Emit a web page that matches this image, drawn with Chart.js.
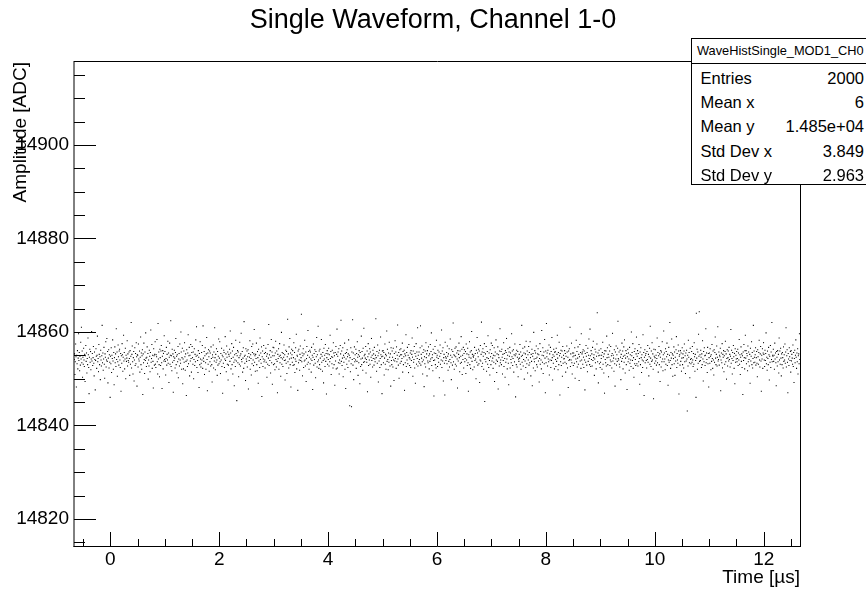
<!DOCTYPE html>
<html>
<head>
<meta charset="utf-8">
<script src="https://cdn.jsdelivr.net/npm/chart.js@4.4.1/dist/chart.umd.min.js"></script>
<style>
html,body{margin:0;padding:0;background:#fff;overflow:hidden;}
#wrap{position:relative;width:866px;height:592px;overflow:hidden;background:#fff;}
#chart{position:absolute;left:0;top:0;}
#stats{position:absolute;left:691px;top:38px;width:190px;height:145px;border:1px solid #000;background:#fff;
  font-family:'Liberation Sans',Arial,Helvetica,sans-serif;color:#000;}
#stats .hdr{position:absolute;left:0;top:0;width:190px;height:24px;line-height:24px;border-bottom:1px solid #000;font-size:12.8px;white-space:nowrap;}
#stats .hdr span{position:absolute;left:5px;}
#stats .row{position:absolute;left:0;width:190px;height:24px;line-height:24px;font-size:16.5px;white-space:nowrap;}
#stats .row .k{position:absolute;left:8.5px;}
#stats .row .v{position:absolute;right:18px;}
</style>
</head>
<body>
<div id="wrap">
<canvas id="chart" width="866" height="592"></canvas>
<div id="stats"></div>
</div>
<script>
// ---- data ----
const chartTitle = 'Single Waveform, Channel 1-0';
const xAxisTitle = 'Time [µs]';
const yAxisTitle = 'Amplitude [ADC]';
const xMin = -0.6667, xMax = 12.6667;
const yMin = 14814.2, yMax = 14917.75;
const xMajorTicks = [0, 2, 4, 6, 8, 10, 12];
const xMinorTicks = [-0.5, 0.5, 1, 1.5, 2.5, 3, 3.5, 4.5, 5, 5.5, 6.5, 7, 7.5, 8.5, 9, 9.5, 10.5, 11, 11.5, 12.5];
const yMajorTicks = [14820, 14840, 14860, 14880, 14900];
const yMinorTicks = [14815, 14825, 14830, 14835, 14845, 14850, 14855, 14865, 14870, 14875, 14885, 14890, 14895, 14905, 14910, 14915];
const statsTitle = 'WaveHistSingle_MOD1_CH0';
const statsLabels = ['Entries', 'Mean x', 'Mean y', 'Std Dev x', 'Std Dev y'];
const statsValues = ['2000', '6', '1.485e+04', '3.849', '2.963'];
// sample timing (time of sample i = start + i * period)
const sampleStartUs = -0.66333;
const samplePeriodUs = 0.0066667;
// amplitude of each sample [ADC]
const amplitudes = [
14854.1,14855.3,14850.9,14853.6,14857.4,14854.7,14848.2,14855.0,14853.2,14856.0,14852.1,14854.4,14859.6,14853.9,14855.6,14851.7,14854.8,14852.9,14857.8,14854.2,14861.0,14853.4,14855.9,14850.3,14854.6,
14853.1,14856.5,14854.0,14852.6,14855.2,14849.4,14854.9,14857.1,14853.7,14855.5,14851.2,14854.3,14853.0,14858.7,14855.1,14852.4,14846.8,14854.6,14856.3,14853.5,14855.8,14851.9,14854.2,14860.1,14853.8,
14855.4,14852.8,14854.5,14856.9,14853.3,14850.6,14855.7,14854.1,14847.6,14853.9,14856.4,14854.8,14852.2,14855.0,14859.1,14853.6,14854.3,14851.5,14857.3,14855.2,14853.0,14854.7,14849.8,14856.1,14854.0,
14852.7,14854.9,14861.4,14853.4,14855.5,14851.8,14854.2,14856.7,14853.1,14850.1,14855.3,14854.6,14857.9,14852.5,14854.0,14858.6,14853.7,14855.8,14849.1,14854.4,14856.2,14852.3,14855.1,14853.5,14846.0,
14854.8,14853.2,14856.6,14851.3,14855.0,14854.3,14858.3,14853.8,14852.0,14855.6,14848.7,14854.5,14856.8,14853.4,14855.3,14852.6,14860.7,14854.1,14855.7,14850.5,14853.6,14857.2,14854.7,14852.9,14855.9,
14856.3,14854.0,14852.4,14855.4,14847.3,14854.9,14853.3,14857.5,14855.1,14851.6,14854.6,14859.3,14853.8,14855.6,14852.1,14854.2,14856.5,14850.0,14855.0,14853.7,14854.4,14858.1,14852.7,14855.3,14853.9,
14853.5,14855.7,14854.3,14850.7,14856.0,14853.1,14854.8,14862.0,14852.3,14855.2,14857.0,14853.6,14851.0,14854.5,14855.8,14849.5,14854.0,14856.6,14852.8,14855.4,14853.2,14857.7,14854.7,14848.4,14855.1,
14855.0,14852.5,14857.4,14854.2,14853.8,14855.9,14851.4,14854.6,14858.9,14853.0,14855.5,14852.0,14854.9,14856.2,14846.6,14855.3,14853.4,14857.6,14854.1,14851.1,14855.7,14853.9,14859.8,14854.4,14852.6,
14854.6,14856.8,14853.3,14855.4,14849.9,14854.0,14852.7,14856.1,14854.8,14851.5,14855.6,14860.4,14853.5,14854.3,14857.3,14852.2,14855.0,14853.7,14848.0,14856.4,14854.9,14852.9,14855.2,14857.9,14853.1,
14852.4,14855.1,14854.7,14858.4,14853.6,14851.0,14861.8,14854.2,14855.7,14853.0,14850.4,14856.3,14854.5,14852.8,14855.9,14857.1,14853.4,14847.9,14854.8,14856.0,14852.1,14855.4,14853.8,14859.2,14854.1,
14855.8,14853.7,14850.8,14854.3,14856.7,14852.9,14855.2,14854.0,14858.0,14853.3,14855.5,14849.2,14854.6,14857.6,14853.1,14855.0,14862.4,14852.6,14854.9,14851.7,14856.3,14853.5,14855.3,14847.1,14854.7,
14853.9,14856.1,14854.4,14852.3,14855.6,14858.6,14853.0,14854.8,14851.2,14855.1,14853.6,14856.9,14850.2,14854.2,14855.4,14852.7,14857.4,14854.0,14853.3,14860.0,14855.7,14852.0,14854.5,14856.5,14848.9,
14854.2,14852.1,14855.9,14853.5,14857.7,14854.7,14851.8,14855.3,14853.7,14846.4,14856.2,14854.0,14852.6,14855.5,14859.4,14853.2,14854.9,14856.7,14850.6,14855.0,14853.8,14857.3,14854.3,14851.4,14855.6,
14856.9,14854.5,14853.1,14855.7,14850.0,14854.1,14856.4,14852.8,14855.2,14853.6,14858.3,14854.8,14861.1,14852.4,14855.0,14853.9,14851.3,14856.0,14854.6,14848.1,14855.4,14853.0,14857.9,14854.2,14852.5,
14853.3,14855.6,14854.0,14857.1,14852.2,14861.3,14854.4,14853.7,14855.8,14850.9,14854.9,14856.6,14853.4,14852.0,14855.3,14858.8,14854.1,14847.4,14855.5,14853.1,14856.2,14854.7,14851.6,14855.9,14853.6,
14855.5,14852.7,14856.8,14854.3,14853.0,14849.3,14855.1,14854.6,14857.2,14852.3,14855.7,14853.8,14860.9,14854.5,14851.9,14855.2,14853.5,14856.4,14854.0,14850.7,14855.8,14852.9,14854.8,14858.5,14853.2,
14854.4,14857.9,14853.6,14851.1,14855.4,14854.0,14856.5,14852.6,14855.0,14846.9,14854.7,14853.3,14856.1,14855.6,14852.4,14854.2,14859.0,14853.9,14855.3,14851.5,14857.0,14854.6,14853.1,14855.7,14849.7,
14852.9,14855.2,14854.8,14856.3,14853.7,14860.2,14855.5,14852.1,14854.3,14857.5,14853.0,14855.9,14851.0,14854.6,14856.7,14853.5,14848.5,14855.1,14854.0,14852.6,14858.2,14855.4,14853.8,14845.3,14854.9,
14856.0,14853.4,14855.7,14850.4,14854.5,14853.1,14857.8,14854.9,14852.7,14855.3,14859.7,14854.1,14853.6,14855.8,14851.4,14854.4,14856.6,14852.2,14862.2,14854.8,14853.3,14855.0,14849.6,14856.4,14854.2,
14853.7,14855.9,14852.5,14854.7,14856.2,14847.8,14855.4,14853.9,14854.6,14858.1,14852.0,14855.1,14854.3,14850.8,14856.9,14853.2,14855.6,14857.4,14854.0,14852.8,14855.3,14860.5,14853.5,14854.9,14851.6,
14855.2,14854.3,14857.6,14853.0,14851.7,14855.8,14854.5,14849.0,14856.3,14853.8,14855.0,14852.4,14858.7,14854.1,14855.5,14853.3,14856.8,14846.2,14854.7,14855.9,14852.6,14854.2,14857.1,14853.6,14855.4,
14854.0,14852.3,14855.6,14856.5,14853.5,14854.8,14850.3,14855.3,14853.1,14857.3,14854.4,14861.6,14852.8,14855.1,14853.9,14856.0,14851.2,14854.6,14858.4,14853.4,14855.7,14848.8,14854.9,14856.7,14853.0,
14856.6,14854.9,14853.2,14851.9,14855.5,14858.0,14854.1,14852.5,14855.9,14853.7,14847.0,14855.2,14854.3,14856.4,14852.0,14854.8,14857.5,14853.4,14855.0,14850.5,14854.5,14859.9,14853.1,14855.6,14854.2,
14852.6,14855.4,14854.6,14857.2,14853.9,14855.1,14849.7,14854.0,14856.1,14853.3,14855.8,14851.1,14854.7,14862.7,14853.6,14855.3,14852.3,14856.8,14854.2,14858.6,14853.0,14855.5,14848.2,14854.4,14856.3,
14855.1,14853.5,14856.0,14852.8,14854.5,14857.7,14853.0,14855.6,14851.3,14854.2,14856.6,14853.7,14859.5,14852.1,14855.0,14854.8,14847.5,14855.9,14853.4,14856.3,14854.0,14851.8,14855.2,14857.0,14853.9,
14854.5,14863.8,14853.6,14855.5,14850.6,14854.9,14856.4,14852.4,14855.3,14853.8,14858.2,14854.0,14852.7,14855.7,14849.4,14854.3,14856.9,14853.1,14855.0,14860.3,14853.5,14855.8,14852.0,14854.6,14856.1,
14853.2,14855.7,14854.2,14851.4,14856.7,14853.9,14855.0,14847.7,14854.6,14857.4,14852.9,14855.4,14854.1,14856.2,14853.3,14850.2,14855.8,14854.7,14858.8,14852.5,14855.1,14853.6,14861.2,14854.0,14852.2,
14855.9,14853.0,14856.3,14854.4,14852.0,14855.2,14858.4,14853.5,14854.8,14851.6,14855.6,14853.9,14849.1,14856.5,14854.2,14855.0,14852.6,14857.3,14853.7,14855.4,14846.7,14854.5,14856.0,14853.1,14855.3,
14854.1,14856.5,14852.7,14855.1,14853.6,14859.3,14854.3,14855.8,14850.9,14854.7,14853.2,14856.1,14854.6,14852.3,14857.7,14855.5,14853.0,14854.9,14848.6,14855.6,14853.8,14856.9,14852.1,14855.2,14860.6,
14852.3,14854.8,14855.7,14853.4,14856.4,14851.0,14854.0,14853.3,14857.1,14855.3,14862.5,14853.7,14855.9,14852.8,14854.4,14856.6,14850.4,14855.0,14853.5,14854.6,14857.6,14852.0,14855.4,14847.9,14854.2,
14855.6,14853.1,14856.2,14854.7,14852.4,14855.3,14858.3,14853.8,14855.0,14844.2,14854.5,14851.5,14856.6,14853.2,14844.0,14855.7,14854.1,14862.6,14852.9,14855.5,14849.8,14854.3,14856.8,14853.6,14855.1,
14854.0,14856.3,14852.2,14855.4,14853.7,14857.9,14854.6,14850.7,14855.1,14853.4,14856.0,14854.8,14848.9,14855.6,14852.6,14854.2,14859.1,14853.0,14855.8,14854.4,14851.8,14856.5,14853.5,14860.8,14854.9,
14853.6,14855.2,14854.4,14856.9,14851.2,14854.1,14853.5,14855.9,14847.2,14854.7,14857.5,14852.8,14855.3,14854.0,14856.4,14853.1,14855.7,14850.3,14854.6,14858.6,14853.9,14855.0,14852.5,14856.1,14854.3,
14855.3,14852.9,14856.7,14854.2,14853.6,14855.0,14862.8,14854.5,14851.6,14855.8,14853.3,14857.2,14854.9,14849.3,14855.5,14853.8,14856.1,14852.4,14854.3,14858.9,14855.1,14853.0,14854.7,14846.8,14855.9,
14854.8,14856.0,14853.4,14855.6,14850.8,14854.4,14857.4,14853.1,14855.2,14852.0,14854.9,14860.2,14853.7,14856.3,14854.1,14851.9,14855.5,14853.5,14857.8,14854.6,14852.7,14855.3,14848.4,14856.6,14853.9,
14853.0,14855.9,14854.6,14852.5,14856.5,14854.0,14849.6,14855.4,14853.8,14858.1,14854.3,14855.7,14852.2,14856.8,14853.6,14855.0,14861.5,14854.2,14852.9,14855.6,14850.1,14854.8,14856.2,14853.3,14855.1,
14856.4,14853.7,14855.1,14854.3,14857.6,14851.4,14855.8,14853.0,14854.7,14856.1,14847.5,14855.3,14853.4,14854.9,14859.4,14852.6,14855.6,14854.0,14856.7,14853.2,14855.0,14851.3,14857.3,14854.5,14852.8,
14854.2,14855.5,14852.4,14856.0,14853.9,14855.2,14858.7,14854.6,14850.5,14855.9,14853.5,14854.1,14856.9,14852.3,14855.4,14849.0,14854.8,14857.5,14853.1,14855.7,14854.3,14860.9,14852.7,14855.0,14853.6,
14855.7,14854.1,14853.3,14856.6,14861.3,14852.9,14855.2,14854.4,14857.0,14853.6,14851.0,14855.6,14854.0,14856.2,14848.3,14854.7,14853.2,14855.9,14852.5,14857.7,14854.5,14855.3,14850.6,14856.0,14853.8,
14853.4,14856.8,14854.9,14852.1,14855.3,14853.7,14857.3,14854.2,14855.8,14859.8,14852.8,14854.5,14855.1,14851.7,14856.3,14853.9,14846.3,14855.5,14854.0,14856.9,14853.0,14855.4,14852.3,14858.2,14854.6,
14855.0,14852.6,14856.1,14854.3,14853.5,14855.7,14850.2,14854.8,14857.2,14853.1,14855.4,14854.0,14860.4,14852.4,14855.9,14853.8,14856.6,14849.5,14854.5,14855.2,14853.3,14846.5,14857.8,14854.7,14853.9,
14854.4,14855.6,14853.2,14857.0,14854.8,14851.8,14855.3,14853.7,14856.4,14852.5,14854.1,14858.5,14855.0,14853.4,14849.8,14856.2,14854.6,14852.9,14855.8,14861.9,14853.6,14855.1,14852.0,14854.9,14856.5,
14853.1,14854.7,14856.8,14852.7,14855.5,14854.2,14848.0,14856.0,14853.8,14855.2,14857.6,14854.5,14851.5,14855.9,14853.3,14854.8,14859.0,14853.5,14856.3,14850.9,14855.0,14854.1,14856.7,14852.3,14855.4,
14856.2,14853.6,14854.3,14855.8,14851.1,14857.4,14854.0,14855.3,14852.8,14856.5,14853.4,14847.3,14855.1,14854.6,14857.9,14853.0,14855.7,14852.2,14854.4,14856.0,14860.1,14853.7,14855.2,14851.9,14854.8,
14854.6,14855.0,14852.5,14856.7,14853.9,14855.4,14854.2,14850.0,14856.1,14853.5,14858.8,14855.5,14852.9,14854.7,14856.3,14853.2,14855.9,14849.2,14854.0,14857.1,14853.8,14855.2,14862.1,14852.6,14855.7,
14853.3,14856.4,14854.8,14852.0,14855.6,14857.5,14845.1,14854.1,14855.3,14853.6,14856.9,14851.6,14854.5,14855.8,14853.1,14859.2,14854.3,14852.4,14855.5,14853.9,14850.8,14856.2,14854.7,14853.0,14857.6,
14855.4,14853.8,14857.1,14854.4,14852.2,14855.0,14853.5,14856.6,14849.4,14854.9,14855.7,14853.2,14858.3,14854.0,14851.3,14855.3,14853.7,14856.8,14847.8,14855.1,14854.5,14852.7,14855.9,14860.7,14853.4,
14854.0,14855.8,14853.0,14856.3,14854.6,14851.0,14855.2,14853.9,14857.7,14852.6,14855.4,14854.3,14850.3,14856.0,14853.5,14855.6,14858.6,14854.2,14852.1,14855.0,14856.4,14853.3,14848.7,14855.7,14854.8,
14856.7,14852.3,14855.5,14854.1,14853.4,14859.6,14854.7,14855.9,14852.8,14854.3,14856.2,14851.4,14855.1,14853.6,14857.4,14854.9,14846.1,14855.3,14853.0,14856.1,14852.5,14854.6,14855.8,14850.4,14854.2,
14853.7,14855.2,14854.4,14857.3,14853.1,14855.7,14852.0,14854.8,14861.4,14853.5,14855.0,14856.5,14852.7,14854.1,14855.5,14849.9,14856.8,14853.8,14855.3,14852.4,14858.0,14854.5,14853.2,14855.9,14851.2,
14855.1,14854.0,14856.9,14852.9,14855.6,14853.4,14857.9,14854.5,14850.6,14855.2,14853.7,14856.3,14848.5,14854.8,14855.4,14852.3,14859.9,14854.2,14853.6,14856.0,14851.7,14855.5,14854.3,14857.0,14853.0,
14854.6,14852.5,14855.3,14856.4,14853.8,14855.1,14849.3,14854.3,14857.5,14853.1,14855.8,14854.0,14852.1,14860.3,14855.0,14853.5,14856.6,14851.1,14854.9,14855.7,14853.2,14858.4,14854.4,14847.0,14855.9,
14853.4,14861.8,14854.7,14855.5,14852.7,14856.1,14854.2,14853.6,14857.2,14850.8,14855.3,14854.0,14856.7,14852.4,14855.8,14853.9,14858.8,14854.5,14849.7,14855.1,14853.3,14856.3,14854.8,14852.1,14855.6,
14855.8,14854.1,14852.6,14856.5,14853.7,14855.2,14859.3,14854.4,14851.9,14855.6,14853.0,14857.8,14854.9,14846.5,14855.4,14853.6,14856.1,14852.8,14854.6,14855.9,14850.5,14856.9,14853.3,14855.0,14854.2,
14854.3,14856.0,14853.5,14855.4,14851.4,14854.8,14853.2,14857.0,14855.7,14852.3,14854.6,14848.1,14855.9,14853.9,14856.4,14854.1,14861.0,14852.6,14855.3,14854.0,14857.6,14853.4,14851.0,14855.5,14854.7,
14852.8,14855.5,14854.9,14853.3,14856.6,14850.1,14855.0,14854.2,14858.2,14853.6,14855.8,14852.5,14854.4,14856.8,14853.1,14855.2,14849.6,14854.7,14857.3,14853.8,14855.6,14852.2,14859.6,14854.0,14855.3,
14855.7,14853.1,14856.2,14854.6,14852.4,14855.9,14854.0,14847.6,14855.4,14853.5,14857.1,14854.8,14852.9,14855.6,14851.5,14856.5,14853.7,14855.0,14858.5,14854.3,14853.0,14860.6,14854.9,14852.6,14856.0,
14854.1,14855.3,14852.7,14856.7,14853.9,14858.0,14854.5,14855.1,14850.7,14854.2,14856.3,14853.4,14855.7,14852.1,14854.8,14857.4,14864.1,14853.6,14855.5,14849.1,14854.9,14856.1,14853.2,14855.0,14852.4,
14853.5,14856.4,14854.3,14855.0,14852.0,14855.6,14857.8,14853.1,14854.7,14851.2,14855.3,14846.9,14856.0,14854.1,14853.4,14855.9,14852.7,14859.1,14854.5,14856.6,14853.0,14855.2,14850.4,14854.6,14857.2,
14855.9,14852.8,14854.0,14856.9,14853.6,14854.9,14852.3,14855.4,14859.7,14853.8,14855.0,14854.4,14851.6,14856.2,14853.2,14848.4,14855.7,14854.2,14857.0,14852.9,14855.1,14853.7,14856.5,14862.3,14854.3,
14854.0,14855.7,14853.1,14852.5,14856.1,14854.6,14849.8,14855.2,14853.7,14857.6,14854.3,14855.9,14852.1,14854.8,14856.8,14853.5,14858.3,14855.0,14851.2,14854.4,14856.0,14853.0,14855.4,14847.7,14854.7,
14856.3,14853.6,14855.5,14854.2,14851.8,14856.7,14853.3,14855.1,14854.0,14852.6,14860.0,14854.9,14855.6,14853.9,14857.5,14852.2,14854.5,14850.3,14855.8,14853.2,14856.4,14854.1,14852.8,14855.3,14858.9,
14853.2,14854.8,14856.0,14852.7,14855.4,14853.6,14857.3,14854.3,14848.8,14855.7,14853.0,14856.6,14854.5,14851.3,14855.1,14854.0,14852.4,14859.4,14853.8,14855.6,14846.4,14854.6,14856.2,14853.4,14855.0,
14855.4,14853.9,14852.3,14855.8,14854.1,14857.1,14853.5,14855.2,14850.6,14854.7,14856.5,14853.1,14861.2,14854.4,14852.6,14855.9,14853.7,14857.7,14854.0,14855.3,14852.0,14845.7,14856.3,14854.8,14853.3,
14854.5,14856.2,14853.8,14855.0,14852.9,14854.3,14858.7,14853.4,14855.6,14851.4,14854.9,14856.9,14853.0,14855.3,14849.4,14854.6,14856.0,14852.5,14855.7,14853.6,14857.9,14854.2,14851.7,14855.1,14860.2,
14853.6,14855.5,14854.2,14851.9,14856.4,14853.1,14855.8,14854.7,14857.6,14852.8,14855.2,14848.6,14854.0,14856.7,14853.5,14855.0,14862.0,14853.9,14852.2,14855.6,14854.4,14858.5,14853.0,14855.3,14850.5,
14855.0,14854.3,14856.8,14853.2,14855.7,14850.7,14854.6,14853.8,14856.2,14859.0,14852.4,14855.4,14854.0,14853.3,14857.2,14855.9,14846.7,14854.8,14855.1,14852.9,14856.0,14853.7,14855.5,14851.6,14854.4,
14856.6,14853.0,14855.3,14854.5,14852.3,14855.9,14857.4,14853.6,14854.9,14851.1,14855.5,14853.8,14856.1,14854.2,14843.1,14855.0,14852.7,14858.2,14854.6,14855.6,14853.4,14850.2,14856.5,14854.1,14853.2,
14854.3,14855.8,14853.5,14856.9,14854.0,14852.6,14855.4,14853.1,14857.7,14854.7,14851.6,14855.2,14853.9,14846.0,14864.0,14854.4,14856.3,14852.0,14855.7,14853.3,14859.5,14854.8,14864.3,14853.7,14855.1,
14853.9,14856.1,14854.6,14852.4,14855.3,14853.0,14858.1,14854.2,14849.5,14855.8,14853.6,14856.6,14854.9,14852.8,14855.0,14860.7,14853.4,14855.5,14854.1,14851.3,14856.7,14853.2,14855.4,14848.2,14854.5,
14855.5,14853.3,14856.4,14854.8,14851.9,14855.1,14853.7,14857.3,14854.3,14852.2,14855.9,14854.0,14850.8,14856.2,14853.5,14855.6,14858.9,14854.4,14853.0,14855.2,14857.0,14852.7,14854.6,14861.1,14853.8,
14854.1,14855.7,14852.9,14855.0,14854.7,14856.5,14847.4,14854.0,14855.5,14853.4,14857.5,14852.3,14855.2,14854.6,14856.0,14851.5,14854.9,14853.1,14855.8,14858.0,14853.6,14855.3,14849.9,14854.3,14856.2,
14852.7,14854.5,14855.9,14853.8,14856.7,14854.1,14855.2,14852.5,14854.8,14860.5,14853.3,14856.1,14854.3,14851.0,14855.6,14853.9,14857.1,14854.7,14852.2,14855.4,14848.9,14856.4,14853.5,14855.0,14854.2,
14855.8,14853.6,14854.3,14856.3,14852.8,14855.5,14854.0,14858.4,14853.1,14855.1,14850.9,14854.6,14856.8,14853.7,14855.3,14852.4,14854.9,14846.6,14855.7,14853.9,14857.3,14854.5,14852.1,14856.0,14859.3,
14854.4,14856.0,14853.2,14855.4,14854.9,14851.7,14857.0,14853.6,14855.7,14854.1,14852.7,14855.2,14849.0,14856.5,14853.8,14854.8,14857.9,14853.0,14855.6,14852.3,14854.3,14861.4,14853.4,14855.9,14854.6,
14853.5,14855.1,14856.6,14852.9,14854.5,14855.8,14853.3,14850.4,14856.2,14854.7,14853.1,14855.6,14858.2,14854.0,14852.5,14855.3,14856.9,14853.8,14847.3,14855.0,14854.2,14856.4,14852.2,14855.5,14857.7,
14855.2,14854.0,14852.6,14856.1,14853.9,14855.4,14859.8,14853.2,14854.6,14851.8,14855.9,14854.3,14853.0,14856.7,14855.1,14849.7,14854.8,14853.5,14857.1,14852.4,14855.7,14854.1,14862.0,14853.6,14855.0,
14854.8,14856.3,14853.7,14855.0,14852.0,14857.6,14854.2,14855.5,14853.4,14848.5,14855.8,14854.6,14852.7,14856.0,14853.6,14855.2,14851.2,14858.7,14854.0,14855.9,14853.1,14856.5,14854.4,14850.6,14855.3,
14853.0,14855.6,14854.5,14852.3,14856.8,14853.7,14855.1,14854.0,14857.4,14853.3,14855.7,14860.9,14852.5,14854.9,14856.2,14853.5,14847.0,14855.4,14854.2,14852.8,14856.6,14854.7,14853.9,14855.8,14851.4,
14856.0,14853.8,14855.2,14854.4,14853.1,14857.2,14852.6,14855.6,14849.2,14854.3,14856.1,14853.4,14855.0,14858.3,14854.6,14852.2,14855.5,14853.6,14856.4,14851.0,14854.9,14855.3,14853.2,14859.6,14854.1
];

// ---- chart ----
const FONT = "'Liberation Sans', Arial, Helvetica, sans-serif";
const points = amplitudes.map((amp, i) => ({ x: sampleStartUs + i * samplePeriodUs, y: amp }));

const rootFrame = {
  id: 'rootFrame',
  afterDraw(chart) {
    const { ctx, chartArea: a, scales: { x, y } } = chart;
    ctx.save();
    ctx.strokeStyle = '#000';
    ctx.lineWidth = 1;
    ctx.beginPath();
    ctx.moveTo(a.left, a.top - 0.5); ctx.lineTo(a.right + 1, a.top - 0.5);
    ctx.moveTo(a.right + 0.5, a.top - 0.5); ctx.lineTo(a.right + 0.5, a.bottom + 1);
    ctx.moveTo(a.left - 0.5, a.bottom + 0.5); ctx.lineTo(a.right + 1, a.bottom + 0.5);
    ctx.moveTo(a.left, a.top - 1); ctx.lineTo(a.left, a.bottom + 1);
    const xt = (v, len) => { const p = Math.round(x.getPixelForValue(v)) + 0.5; ctx.moveTo(p, a.bottom); ctx.lineTo(p, a.bottom - len); };
    const yt = (v, len) => { const p = Math.round(y.getPixelForValue(v)) + 0.5; ctx.moveTo(a.left, p); ctx.lineTo(a.left + len, p); };
    xMajorTicks.forEach(v => xt(v, 14));
    xMinorTicks.forEach(v => xt(v, 7));
    yMajorTicks.forEach(v => yt(v, 22));
    yMinorTicks.forEach(v => yt(v, 11));
    ctx.stroke();
    ctx.restore();
  }
};

new Chart(document.getElementById('chart'), {
  type: 'scatter',
  data: {
    datasets: [{
      data: points,
      showLine: false,
      pointStyle: 'rect',
      pointRadius: 0.75,
      pointHoverRadius: 0.75,
      pointBorderWidth: 0,
      backgroundColor: '#000',
      borderColor: '#000'
    }]
  },
  options: {
    responsive: false,
    animation: false,
    devicePixelRatio: 1,
    layout: { padding: 0 },
    events: [],
    plugins: {
      legend: { display: false },
      tooltip: { enabled: false },
      title: {
        display: true,
        text: chartTitle,
        color: '#000',
        font: { family: FONT, size: 27, weight: 'normal' },
        padding: { top: 4, bottom: 25.6 }
      }
    },
    scales: {
      x: {
        type: 'linear',
        position: 'bottom',
        min: xMin,
        max: xMax,
        grid: { display: false, drawTicks: false },
        border: { display: false },
        ticks: {
          color: '#000',
          font: { family: FONT, size: 19 },
          padding: 2,
          maxRotation: 0,
          autoSkip: false,
          callback: v => String(v)
        },
        afterBuildTicks: s => { s.ticks = xMajorTicks.map(v => ({ value: v })); },
        afterFit: s => { s.height = 46; },
        title: {
          display: true,
          text: xAxisTitle,
          align: 'end',
          color: '#000',
          font: { family: FONT, size: 19 },
          padding: { top: 0, bottom: 3 }
        }
      },
      y: {
        type: 'linear',
        position: 'left',
        min: yMin,
        max: yMax,
        grid: { display: false, drawTicks: false },
        border: { display: false },
        ticks: {
          color: '#000',
          font: { family: FONT, size: 19 },
          padding: 5,
          autoSkip: false,
          callback: v => String(v)
        },
        afterBuildTicks: s => { s.ticks = yMajorTicks.map(v => ({ value: v })); },
        afterFit: s => { s.width = 74; },
        title: {
          display: true,
          text: yAxisTitle,
          align: 'end',
          color: '#000',
          font: { family: FONT, size: 19 },
          padding: { top: 9, bottom: 0 }
        }
      },
      rightSpace: {
        type: 'linear',
        axis: 'y',
        position: 'right',
        display: true,
        grid: { display: false, drawTicks: false },
        border: { display: false },
        ticks: { display: false },
        afterFit: s => { s.width = 66; }
      }
    }
  },
  plugins: [rootFrame]
});

// ---- stats box (real text) ----
const stats = document.getElementById('stats');
const hdr = document.createElement('div');
hdr.className = 'hdr';
hdr.innerHTML = '<span></span>';
hdr.firstChild.textContent = statsTitle;
stats.appendChild(hdr);
const rowTops = [26.6, 51, 75.4, 99.8, 124.2];
statsLabels.forEach((label, i) => {
  const r = document.createElement('div');
  r.className = 'row';
  r.style.top = rowTops[i] + 'px';
  const k = document.createElement('span'); k.className = 'k'; k.textContent = label;
  const v = document.createElement('span'); v.className = 'v'; v.textContent = statsValues[i];
  r.appendChild(k); r.appendChild(v);
  stats.appendChild(r);
});
</script>
</body>
</html>
